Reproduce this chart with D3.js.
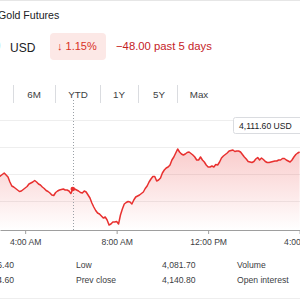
<!DOCTYPE html>
<html><head><meta charset="utf-8">
<script src="https://cdn.jsdelivr.net/npm/d3@7"></script>
<style>
html,body{margin:0;padding:0;background:#fff;overflow:hidden;}
svg{display:block;font-family:"Liberation Sans",Arial,sans-serif;}
</style></head>
<body>
<svg id="c" width="300" height="300"></svg>
<script>
// ---- data ----
const title = "Gold Futures";
const currency = "USD";
const lastPrice = "4,111.60";
const changePct = "1.15%";
const changeAbs = "\u221248.00 past 5 days";
const tabs = ["6M", "YTD", "1Y", "5Y", "Max"];
const tooltipLabel = "4,111.60 USD";
const startTime = new Date(2025, 9, 21, 2, 50);
const stepMinutes = 5;
const prices = [
4101.6,4102.0,4102.6,4103.2,4102.4,4101.6,4099.6,4098.0,4097.6,4097.0,
4096.4,4095.8,4096.0,4096.6,4097.2,4097.8,4098.8,4099.2,4099.6,4100.2,
4099.6,4098.8,4098.4,4097.6,4097.0,4096.2,4095.8,4095.2,4094.4,4094.2,
4095.4,4096.0,4096.4,4096.6,4096.8,4096.4,4096.4,4096.0,4095.0,4096.8,
4096.8,4096.4,4096.0,4095.4,4095.2,4096.0,4095.6,4094.4,4093.2,4091.2,
4089.6,4088.2,4087.2,4086.8,4086.0,4085.2,4085.6,4084.4,4082.4,4082.8,
4083.6,4083.6,4083.8,4082.8,4086.4,4088.8,4090.8,4091.4,4091.8,4091.6,
4090.8,4092.4,4093.6,4094.0,4094.4,4095.0,4095.6,4097.0,4098.0,4099.6,
4100.8,4101.8,4101.8,4100.0,4100.4,4101.2,4103.2,4104.4,4105.2,4105.6,
4106.4,4108.4,4109.6,4111.2,4112.8,4111.6,4110.8,4110.4,4110.8,4111.4,
4111.6,4111.0,4110.4,4109.6,4108.4,4108.4,4109.6,4108.4,4107.6,4106.4,
4105.6,4105.6,4106.0,4105.6,4106.6,4106.4,4107.6,4109.2,4110.0,4110.6,
4111.2,4112.0,4112.2,4112.4,4111.8,4112.0,4112.0,4111.6,4110.6,4109.6,
4108.8,4107.8,4107.6,4107.4,4107.8,4108.8,4109.4,4108.4,4109.2,4108.6,
4107.8,4107.4,4107.4,4107.6,4107.8,4108.0,4108.0,4108.4,4108.4,4109.0,
4109.0,4108.4,4108.0,4107.6,4108.4,4109.6,4110.6,4111.2,4111.6
];
const gridValues = [4124.4, 4113.6, 4102.8, 4092.0];
const markerTime = new Date(2025, 9, 21, 6, 5);
const tickTimes = [new Date(2025,9,21,4,0), new Date(2025,9,21,8,0), new Date(2025,9,21,12,0), new Date(2025,9,21,16,0)];
const statsRow1 = ["4,156.40", "Low", "4,081.70", "Volume"];
const statsRow2 = ["4,134.60", "Prev close", "4,140.80", "Open interest"];

// ---- chart ----
const svg = d3.select("#c");
const red = "#e8302f";
const data = prices.map((p, i) => ({t: d3.timeMinute.offset(startTime, i * stepMinutes), p}));

const x = d3.scaleTime()
  .domain([new Date(2025,9,21,2,54), new Date(2025,9,21,16,1)])
  .range([0, 300]);
const y = d3.scaleLinear().domain([4080.4, 4132.4]).range([230, 100]);

// borders
svg.append("line").attr("x1",0).attr("x2",300).attr("y1",0.5).attr("y2",0.5).attr("stroke","#e6e6e6");
svg.append("line").attr("x1",0).attr("x2",300).attr("y1",298.5).attr("y2",298.5).attr("stroke","#eeeeee");

// header
svg.append("text").attr("x",-2).attr("y",19).attr("font-size",10.6).attr("fill","#202124").text(title);
svg.append("text").attr("x",0.5).attr("y",52).attr("text-anchor","end").attr("font-size",18).attr("fill","#202124").text(lastPrice);
svg.append("text").attr("x",10).attr("y",52).attr("font-size",12).attr("fill","#202124").text(currency);
svg.append("rect").attr("x",50).attr("y",33).attr("width",56).attr("height",27).attr("rx",4).attr("fill","#fce8e6");
svg.append("text").attr("x",57).attr("y",50).attr("font-size",11).attr("fill","#d93025").text("\u2193 " + changePct);
svg.append("text").attr("x",116).attr("y",50).attr("font-size",11.3).attr("fill","#c5221f").text(changeAbs);

// tabs
const sepX = [13, 55, 100, 138, 177];
const tabX = [34, 78, 119, 159, 199];
svg.selectAll(".sep").data(sepX).enter().append("line")
  .attr("x1", d=>d+0.5).attr("x2", d=>d+0.5).attr("y1",85).attr("y2",103).attr("stroke","#dadce0");
svg.selectAll(".tab").data(tabs).enter().append("text")
  .attr("x",(d,i)=>tabX[i]).attr("y",98).attr("text-anchor","middle")
  .attr("font-size",9.8).attr("fill","#3c4043").text(d=>d);

// gridlines
svg.selectAll(".grid").data(gridValues).enter().append("line")
  .attr("x1",0).attr("x2",300).attr("y1",d=>Math.round(y(d))+0.5).attr("y2",d=>Math.round(y(d))+0.5)
  .attr("stroke","#eeeeee");

// gradient area
const defs = svg.append("defs");
const g = defs.append("linearGradient").attr("id","ag").attr("x1",0).attr("x2",0)
  .attr("gradientUnits","userSpaceOnUse").attr("y1",145).attr("y2",230);
g.append("stop").attr("offset","0%").attr("stop-color",red).attr("stop-opacity",0.26);
g.append("stop").attr("offset","100%").attr("stop-color",red).attr("stop-opacity",0.0);

svg.append("path").datum(data)
  .attr("d", d3.area().x(d=>x(d.t)).y0(230).y1(d=>y(d.p)))
  .attr("fill","url(#ag)");

// dotted vertical
const mx = Math.round(x(markerTime)) + 0.5;
svg.append("line").attr("x1",mx).attr("x2",mx).attr("y1",100).attr("y2",230)
  .attr("stroke","#9aa0a6").attr("stroke-dasharray","1,2");

// line
svg.append("path").datum(data)
  .attr("d", d3.line().x(d=>x(d.t)).y(d=>y(d.p)))
  .attr("fill","none").attr("stroke",red).attr("stroke-width",1.5).attr("stroke-linejoin","round");

// marker dot
const md = data.find(d => +d.t === +markerTime);
svg.append("circle").attr("cx",x(md.t)).attr("cy",y(md.p)).attr("r",2.3).attr("fill",red);

// axis
const ax = svg.append("g").attr("transform","translate(0,230)")
  .call(d3.axisBottom(x).tickValues(tickTimes).tickFormat(d3.timeFormat("%-I:%M %p")).tickSize(4).tickSizeOuter(0));
ax.select(".domain").attr("stroke","#9e9e9e");
ax.selectAll(".tick line").attr("stroke","#9e9e9e");
ax.selectAll(".tick text").attr("font-size",8.6).attr("fill","#3c4043").attr("dy","0.9em").attr("font-family","Liberation Sans, Arial, sans-serif");

// tooltip
svg.append("rect").attr("x",233.5).attr("y",117.5).attr("width",80).attr("height",16).attr("rx",2)
  .attr("fill","#fff").attr("stroke","#dadce0");
svg.append("text").attr("x",239).attr("y",128.5).attr("font-size",8.6).attr("fill","#202124").text(tooltipLabel);

// stats
const colX = [14, 76, 162, 237];
[statsRow1, statsRow2].forEach((row, r) => {
  svg.selectAll(".s"+r).data(row).enter().append("text")
    .attr("x",(d,i)=>colX[i]).attr("y", 268 + r*15)
    .attr("text-anchor",(d,i)=> i===0 ? "end" : "start")
    .attr("font-size",8.6).attr("fill","#3c4043").text(d=>d);
});
</script>
</body></html>
